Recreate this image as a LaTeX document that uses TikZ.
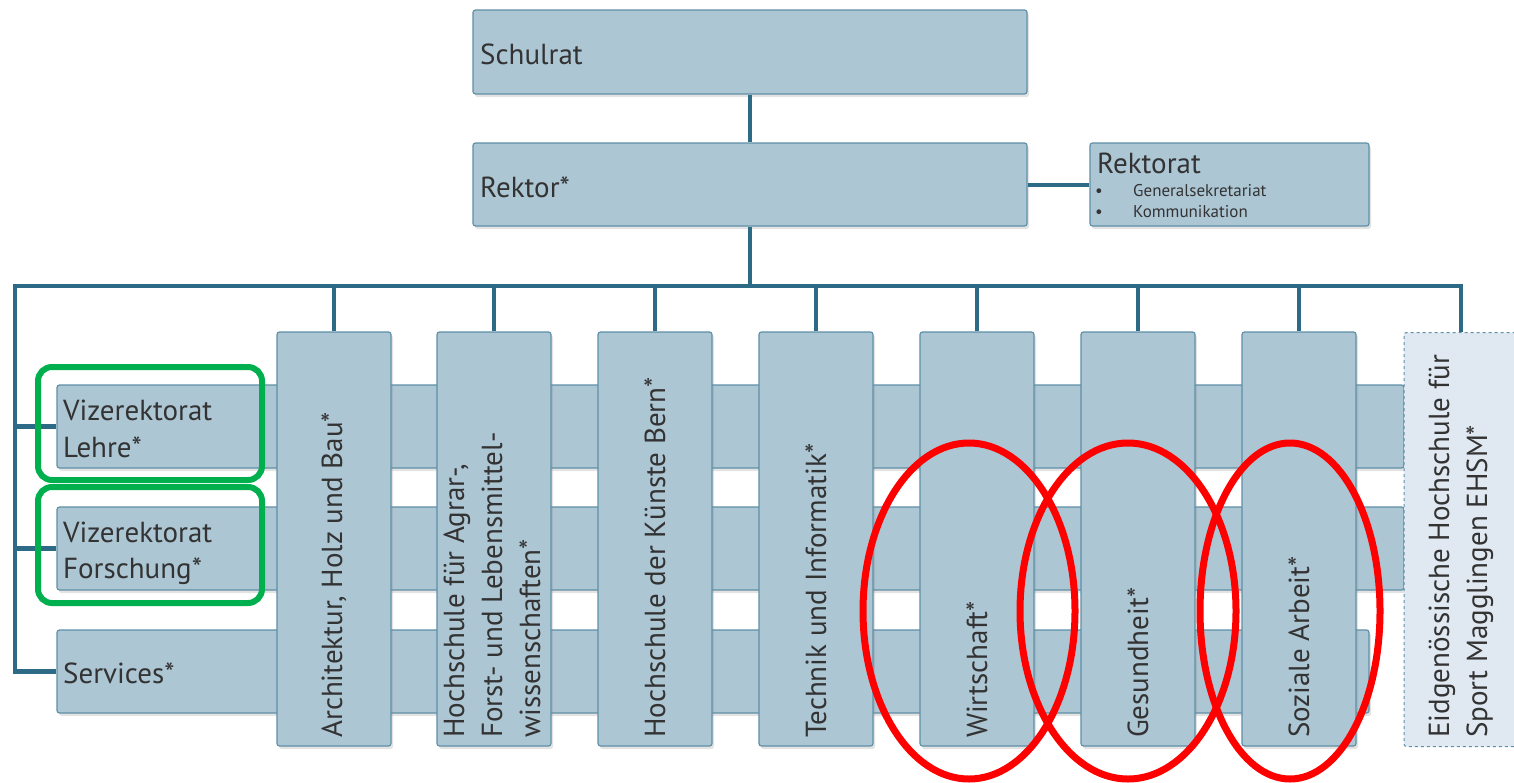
\documentclass[tikz,border=0pt]{standalone}
\usepackage{fontspec}
\setmainfont{PT Sans}
\usetikzlibrary{shadows}
\definecolor{boxfill}{HTML}{ADC6D4}
\definecolor{boxline}{HTML}{5F8FA6}
\definecolor{connc}{HTML}{2C6A85}
\definecolor{ehsmfill}{HTML}{E0E9F1}
\definecolor{greenring}{HTML}{00B04F}
\definecolor{redring}{HTML}{FF0000}
\definecolor{txt}{HTML}{333333}
\begin{document}
\begin{tikzpicture}[x=1pt,y=-1pt,
  box/.style={draw=boxline, fill=boxfill, line width=1.2pt, rounded corners=2.5pt,
    inner sep=0pt, drop shadow={opacity=0.22, shadow xshift=2pt, shadow yshift=-3pt}},
  colbox/.style={box, minimum width=114pt, minimum height=414pt},
  band/.style={box, minimum height=83pt},
  ehsmbox/.style={draw=boxline, fill=ehsmfill, line width=1pt, dashed, rounded corners=2.5pt,
    inner sep=0pt, minimum width=114pt, minimum height=414pt},
  connector/.style={draw=connc, line width=4.8pt, line join=miter},
  lbl/.style={font=\fontsize{29}{38}\selectfont, text=txt, inner sep=0pt},
  small/.style={font=\fontsize{17}{21}\selectfont, text=txt, inner sep=0pt},
  collbl/.style={lbl, rotate=90, anchor=west, align=left},
  greenbox/.style={draw=greenring, line width=6pt, rounded corners=14pt},
  redoval/.style={draw=redring, line width=7pt}
]
\useasboundingbox (0,0) rectangle (1514,782);

% top boxes
\node[box, minimum width=554pt, minimum height=84pt] (schulrat) at (750,52) {};
\node[box, minimum width=554pt, minimum height=83pt] (rektor) at (750,184.5) {};
\node[box, minimum width=279pt, minimum height=83pt] (rektorat) at (1229.5,184.5) {};
\node[lbl, anchor=base west] (tschulrat) at (480,64) {Schulrat};
\node[lbl, anchor=base west] (trektor) at (480,197) {Rektor*};
\node[lbl, anchor=base west] (trektorat) at (1097,173) {Rektorat};
\node[small, anchor=base west] (b1) at (1095,196) {•};
\node[small, anchor=base west] (t1) at (1133,196) {Generalsekretariat};
\node[small, anchor=base west] (b2) at (1095,217) {•};
\node[small, anchor=base west] (t2) at (1133,217) {Kommunikation};

% bands
\node[band, minimum width=1347pt] (lehre) at (730.5,426.5) {};
\node[band, minimum width=1347pt] (forschung) at (730.5,548.5) {};
\node[band, minimum width=1312pt] (services) at (713,671.5) {};

% columns
\node[colbox] (arch) at (334,539) {};
\node[colbox] (agrar) at (494,539) {};
\node[colbox] (kuenste) at (655,539) {};
\node[colbox] (technik) at (816,539) {};
\node[colbox] (wirtschaft) at (977,539) {};
\node[colbox] (gesundheit) at (1138,539) {};
\node[colbox] (soziale) at (1299,539) {};
\node[ehsmbox] (ehsm) at (1461,539.5) {};

% connectors
\coordinate (bus) at (750,286);
\coordinate (leftbus) at (15,286);
\draw[connector] (schulrat.south) -- (rektor.north);
\draw[connector] (rektor.east |- 0,185) -- (rektorat.west |- 0,185);
\draw[connector] (rektor.south) -- (bus);
\draw[connector] (services.west) -| (leftbus) -- (ehsm.north |- leftbus) -- (ehsm.north);
\draw[connector] (lehre.west) -- (lehre.west -| leftbus);
\draw[connector] (forschung.west) -- (forschung.west -| leftbus);
\foreach \c in {arch,agrar,kuenste,technik,wirtschaft,gesundheit,soziale}
  \draw[connector] (\c.north) -- (\c.north |- bus);

% band labels
\node[lbl, anchor=base west] (tl1) at (63,420) {Vizerektorat};
\node[lbl, anchor=base west] (tl2) at (63,457) {Lehre*};
\node[lbl, anchor=base west] (tf1) at (63,542) {Vizerektorat};
\node[lbl, anchor=base west] (tf2) at (63,578) {Forschung*};
\node[lbl, anchor=base west] (ts) at (63,683) {Services*};

% column labels
\node[collbl] (tarch) at (334,738) {Architektur, Holz und Bau*};
\node[collbl] (tagrar) at (492,738) {Hochschule für Agrar-,\\Forst- und Lebensmittel-\\wissenschaften*};
\node[collbl] (tkuenste) at (655,738) {Hochschule der Künste Bern*};
\node[collbl] (ttechnik) at (816,738) {Technik und Informatik*};
\node[collbl] (twirtschaft) at (977,738) {Wirtschaft*};
\node[collbl] (tgesundheit) at (1138,738) {Gesundheit*};
\node[collbl] (tsoziale) at (1299,738) {Soziale Arbeit*};
\node[collbl] (tehsm) at (1461,738) {Eidgenössische Hochschule für\\Sport Magglingen EHSM*};

% highlights
\draw[greenbox] (38,367) rectangle (262,480);
\draw[greenbox] (38,487) rectangle (262,603);
\draw[redoval] (969,611) ellipse [x radius=106pt, y radius=168pt];
\draw[redoval] (1128,611) ellipse [x radius=108pt, y radius=168pt];
\draw[redoval] (1290,611) ellipse [x radius=90pt, y radius=168pt];
\end{tikzpicture}
\end{document}
